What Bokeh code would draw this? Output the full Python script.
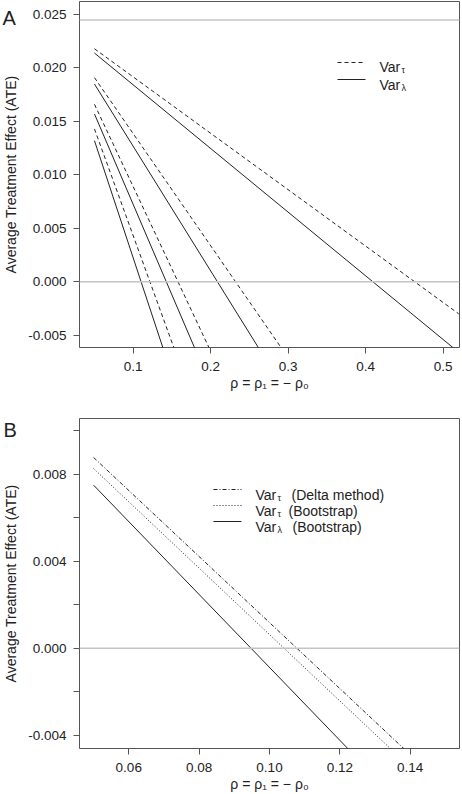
from bokeh.plotting import figure
from bokeh.layouts import column
from bokeh.models import (Range1d, FixedTicker, PrintfTickFormatter, Span, Label, Arrow)
from bokeh.embed import file_html
from bokeh.resources import INLINE

# ---------------- data ----------------
# Panel A: ATE bounds vs rho (straight lines, values at rho = 0.05 and 0.52)
rho_A = [0.05, 0.52]
A_var_tau = [
    [0.0218, -0.0030],
    [0.0191, -0.0302],
    [0.0166, -0.0558],
    [0.0143, -0.0796],
]
A_var_lambda = [
    [0.0214, -0.0066],
    [0.0185, -0.0363],
    [0.0157, -0.0639],
    [0.0132, -0.0899],
]
A_ref_lines = [0.0, 0.0245]
A_xticks = [0.1, 0.2, 0.3, 0.4, 0.5]
A_yticks = [-0.005, 0.0, 0.005, 0.010, 0.015, 0.020, 0.025]

# Panel B
rho_B = [0.05, 0.15]
B_tau_delta = [0.00877, -0.00640]
B_tau_boot = [0.00826, -0.00699]
B_lambda_boot = [0.00750, -0.00925]
B_ref_lines = [0.0]
B_xticks = [0.06, 0.08, 0.10, 0.12, 0.14]
B_yticks = [-0.004, 0.0, 0.004, 0.008]
B_yminor = [-0.002, 0.002, 0.006, 0.010]

panel_tags = ["A", "B"]
x_label = "ρ = ρ₁ = − ρ₀"
y_label = "Average Treatment Effect (ATE)"

FONT = "Liberation Sans"
TXT = "#222222"
LINE = "#222222"
FRAME = "#555555"
GRAY = "#c4c4c4"
SHIFT = 15          # left panel holding the tag is pushed off-page by this much
LEFT = 79 + SHIFT


def style(p):
    p.outline_line_color = FRAME
    p.outline_line_width = 1
    p.xgrid.visible = False
    p.ygrid.visible = False
    for ax in (p.xaxis[0], p.yaxis[0]):
        ax.axis_line_color = None
        ax.major_tick_in = 0
        ax.major_tick_out = 6
        ax.major_tick_line_color = FRAME
        ax.minor_tick_in = 0
        ax.minor_tick_out = 0
        ax.major_label_text_font = FONT
        ax.major_label_text_font_size = "13.5px"
        ax.major_label_text_color = TXT
        ax.axis_label_text_font = FONT
        ax.axis_label_text_font_size = "14px"
        ax.axis_label_text_font_style = "normal"
        ax.axis_label_text_color = TXT
    p.xaxis[0].major_label_standoff = 8
    p.xaxis[0].axis_label_standoff = 1
    p.yaxis[0].major_label_standoff = 7
    p.yaxis[0].axis_label_standoff = 6


def legend_row(p, x0, x1, y, dash, label_x, base_y, sub, rest=None, rest_x=None):
    p.add_layout(Arrow(x_start=x0, y_start=y, x_end=x1, y_end=y,
                       start_units="screen", end_units="screen",
                       start=None, end=None, line_color=LINE, line_width=1,
                       line_dash=dash))
    p.add_layout(Label(x=label_x, y=base_y, x_units="screen", y_units="screen",
                       text="Var", text_font=FONT, text_font_size="14px",
                       text_color=TXT, text_baseline="alphabetic"))
    p.add_layout(Label(x=label_x + 22, y=base_y - 3, x_units="screen", y_units="screen",
                       text=sub, text_font=FONT, text_font_size="9px",
                       text_color=TXT, text_baseline="alphabetic"))
    if rest:
        p.add_layout(Label(x=rest_x, y=base_y, x_units="screen", y_units="screen",
                           text=rest, text_font=FONT, text_font_size="14px",
                           text_color=TXT, text_baseline="alphabetic"))


def tag(p, text, x, y):
    p.add_layout(Label(x=x, y=y, x_units="screen", y_units="screen", text=text,
                       text_font=FONT, text_font_size="20px", text_color=TXT,
                       text_baseline="alphabetic"), "left")


# ---------------- Panel A ----------------
pA = figure(width=462 + SHIFT, height=400, output_backend="svg", toolbar_location=None,
            x_range=Range1d(0.0307, 0.521), y_range=Range1d(-0.00615, 0.02622),
            min_border_left=LEFT, min_border_right=3, min_border_top=1, min_border_bottom=53)
style(pA)
pA.xaxis[0].ticker = FixedTicker(ticks=A_xticks)
pA.yaxis[0].ticker = FixedTicker(ticks=A_yticks)
pA.xaxis[0].formatter = PrintfTickFormatter(format="%.1f")
pA.yaxis[0].formatter = PrintfTickFormatter(format="%.3f")
pA.xaxis[0].axis_label = x_label
pA.yaxis[0].axis_label = y_label
for v in A_ref_lines:
    pA.add_layout(Span(location=v, dimension="width", line_color=GRAY, line_width=1.5))
for vals in A_var_tau:
    pA.line(rho_A, vals, line_color=LINE, line_width=1, line_dash="4 3")
for vals in A_var_lambda:
    pA.line(rho_A, vals, line_color=LINE, line_width=1)
legend_row(pA, 258, 285, 285, "4 3", 300, 281, "τ")
legend_row(pA, 258, 286, 268, "solid", 300, 263, "λ")
tag(pA, panel_tags[0], SHIFT, 330)

# ---------------- Panel B ----------------
pB = figure(width=462 + SHIFT, height=394, output_backend="svg", toolbar_location=None,
            x_range=Range1d(0.046, 0.154), y_range=Range1d(-0.0046, 0.01056),
            min_border_left=LEFT, min_border_right=3, min_border_top=18, min_border_bottom=45)
style(pB)
pB.xaxis[0].ticker = FixedTicker(ticks=B_xticks)
pB.yaxis[0].ticker = FixedTicker(ticks=B_yticks, minor_ticks=B_yminor)
pB.yaxis[0].minor_tick_out = 6
pB.yaxis[0].minor_tick_line_color = FRAME
pB.xaxis[0].formatter = PrintfTickFormatter(format="%.2f")
pB.yaxis[0].formatter = PrintfTickFormatter(format="%.3f")
pB.xaxis[0].axis_label = x_label
pB.yaxis[0].axis_label = y_label
for v in B_ref_lines:
    pB.add_layout(Span(location=v, dimension="width", line_color=GRAY, line_width=1.5))
pB.line(rho_B, B_tau_delta, line_color=LINE, line_width=1, line_dash="4 2 1 2")
pB.line(rho_B, B_tau_boot, line_color=LINE, line_width=1, line_dash="1 2")
pB.line(rho_B, B_lambda_boot, line_color=LINE, line_width=1)
legend_row(pB, 134, 162, 259, "4 2 1 2", 176, 254, "τ", "(Delta method)", 212)
legend_row(pB, 134, 162, 243, "1 2", 176, 238, "τ", "(Bootstrap)", 209)
legend_row(pB, 134, 162, 227, "solid", 176, 222, "λ", "(Bootstrap)", 213)
tag(pB, panel_tags[1], 1 + SHIFT, 319)

layout = column(pA, pB, spacing=0,
                styles={"position": "absolute", "left": f"-{SHIFT}px", "top": "0px"})
open("out.html", "w").write(file_html(layout, INLINE))
